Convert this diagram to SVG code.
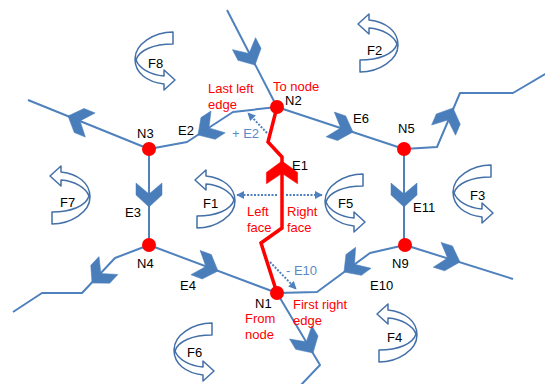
<svg xmlns="http://www.w3.org/2000/svg" xmlns:xlink="http://www.w3.org/1999/xlink" width="545" height="384" viewBox="0 0 545 384">
<defs>
<style>
text{font-family:"Liberation Sans",Arial,sans-serif;font-size:13px;fill:#000}
text.red{fill:#FF0000}
text.bt{fill:#5A8AC6}
.edge{fill:none;stroke:#4F81BD;stroke-width:2;stroke-linejoin:round}
.chev{fill:#4A7EBB;stroke:#4A7EBB;stroke-width:0.5;stroke-linejoin:round}
.face{fill:#fff;stroke:#4470A8;stroke-width:1.5;stroke-linejoin:round}
.dot{fill:none;stroke:#4F81BD;stroke-width:2;stroke-dasharray:2 1.5}
.redline{fill:none;stroke:#FF0000;stroke-width:3.5;stroke-linejoin:miter}
.node{fill:#FF0000}
</style>
<polygon id="chev" points="0,0 -12,-13 -24,-13 -13,0 -24,13 -12,13"/>
<path id="faceA" d="M38,0 C19,0 0,12 0,27 C0,41 12,50 29,52 L29,58 L40,48 L29,38 L29,44 C15,43 4,36 1,28 C4,18 19,12 38,12 Z"/>
<marker id="ah" viewBox="0 0 10 10" refX="9" refY="5" markerWidth="4" markerHeight="4" orient="auto" markerUnits="strokeWidth"><path d="M0,0 L10,5 L0,10 z" fill="#4F81BD"/></marker>
</defs>
<rect width="545" height="384" fill="#fff"/>

<g id="faces">
<g id="F8"><use xlink:href="#faceA" class="face" transform="translate(135,32)"/><text x="148" y="68">F8</text></g>
<g id="F5"><use xlink:href="#faceA" class="face" transform="translate(325,174)"/><text x="338" y="208">F5</text></g>
<g id="F3"><use xlink:href="#faceA" class="face" transform="translate(453,165)"/><text x="470" y="200">F3</text></g>
<g id="F6"><use xlink:href="#faceA" class="face" transform="translate(174,323)"/><text x="187" y="357">F6</text></g>
<g id="F2"><use xlink:href="#faceA" class="face" transform="translate(358,14) rotate(180 20 29)"/><text x="367" y="55">F2</text></g>
<g id="F7"><use xlink:href="#faceA" class="face" transform="translate(50,166) rotate(180 20 29)"/><text x="60" y="207">F7</text></g>
<g id="F1"><use xlink:href="#faceA" class="face" transform="translate(195,170) rotate(180 20 29)"/><text x="203" y="208">F1</text></g>
<g id="F4"><use xlink:href="#faceA" class="face" transform="translate(377,304) rotate(180 20 29)"/><text x="387" y="342">F4</text></g>
</g>

<g id="connectors">
<path class="edge" d="M277,107 L233,112 L187,142 L149,149"/>
<path class="edge" d="M277,107 L404,149"/>
<path class="edge" d="M149,149 L149,245"/>
<path class="edge" d="M404,149 L404,245"/>
<path class="edge" d="M149,245 L277,293"/>
<path class="edge" d="M405,245 L370,253 L317,292 L277,293"/>
<path class="edge" d="M149,149 L28,100"/>
<path class="edge" d="M227,10 L277,107"/>
<path class="edge" d="M404,149 L437,147 L460,93 L513,93 L547,73"/>
<path class="edge" d="M149,245 L115,258 L82,293 L42,293 L13,312"/>
<path class="edge" d="M405,245 L513,279"/>
<path class="edge" d="M277,293 L320,365 L300,386"/>

<use xlink:href="#chev" class="chev" transform="translate(149,207) rotate(90)"/>
<use xlink:href="#chev" class="chev" transform="translate(404,207) rotate(90)"/>
<use xlink:href="#chev" class="chev" transform="translate(198,135) rotate(146.9)"/>
<use xlink:href="#chev" class="chev" transform="translate(353,132) rotate(18.3)"/>
<use xlink:href="#chev" class="chev" transform="translate(68,116) rotate(202.1)"/>
<use xlink:href="#chev" class="chev" transform="translate(255,65) rotate(62.7)"/>
<use xlink:href="#chev" class="chev" transform="translate(453,108) rotate(-66.9)"/>
<use xlink:href="#chev" class="chev" transform="translate(92,283) rotate(133.3)"/>
<use xlink:href="#chev" class="chev" transform="translate(218,271) rotate(20.6)"/>
<use xlink:href="#chev" class="chev" transform="translate(460,262) rotate(17.5)"/>
<use xlink:href="#chev" class="chev" transform="translate(344,272) rotate(143.7)"/>
<use xlink:href="#chev" class="chev" transform="translate(313,353) rotate(59.2)"/>

<path class="redline" d="M277,293 L261,243 L282,228 L282,157 L268,142 L277,107"/>
<use xlink:href="#chev" transform="translate(282,161) rotate(-90) scale(0.95,1.2)" fill="#FF0000" stroke="#FF0000" stroke-width="0.5"/>

<path class="dot" d="M267,133 L248,113" marker-end="url(#ah)"/>
<path class="dot" d="M277,195 L237,195" marker-end="url(#ah)"/>
<path class="dot" d="M286,195 L322,195" marker-end="url(#ah)"/>
<path class="dot" d="M270,262 L296,289" marker-end="url(#ah)"/>

<text x="178" y="135">E2</text>
<text x="353" y="123">E6</text>
<text x="292" y="170">E1</text>
<text x="125" y="217">E3</text>
<text x="413" y="212">E11</text>
<text x="180" y="290">E4</text>
<text x="370" y="290">E10</text>
<text class="bt" x="232" y="138">+ E2</text>
<text class="bt" x="286" y="275">- E10</text>
<text class="red" x="208" y="93">Last left</text>
<text class="red" x="208" y="109">edge</text>
<text class="red" x="247" y="216">Left</text>
<text class="red" x="247" y="232">face</text>
<text class="red" x="287" y="216">Right</text>
<text class="red" x="287" y="232">face</text>
<text class="red" x="293" y="309">First right</text>
<text class="red" x="293" y="325">edge</text>
</g>

<g id="N1"><circle class="node" cx="277" cy="293" r="7"/><text x="255" y="308">N1</text><text class="red" x="245" y="323">From</text><text class="red" x="245" y="339">node</text></g>
<g id="N2"><circle class="node" cx="277" cy="107" r="7"/><text x="285" y="105">N2</text><text class="red" x="273" y="91">To node</text></g>
<g id="N3"><circle class="node" cx="149" cy="149" r="7"/><text x="137" y="138">N3</text></g>
<g id="N4"><circle class="node" cx="149" cy="245" r="7"/><text x="137" y="268">N4</text></g>
<g id="N5"><circle class="node" cx="404" cy="149" r="7"/><text x="398" y="133">N5</text></g>
<g id="N9"><circle class="node" cx="405" cy="245" r="7"/><text x="392" y="268">N9</text></g>
</svg>
